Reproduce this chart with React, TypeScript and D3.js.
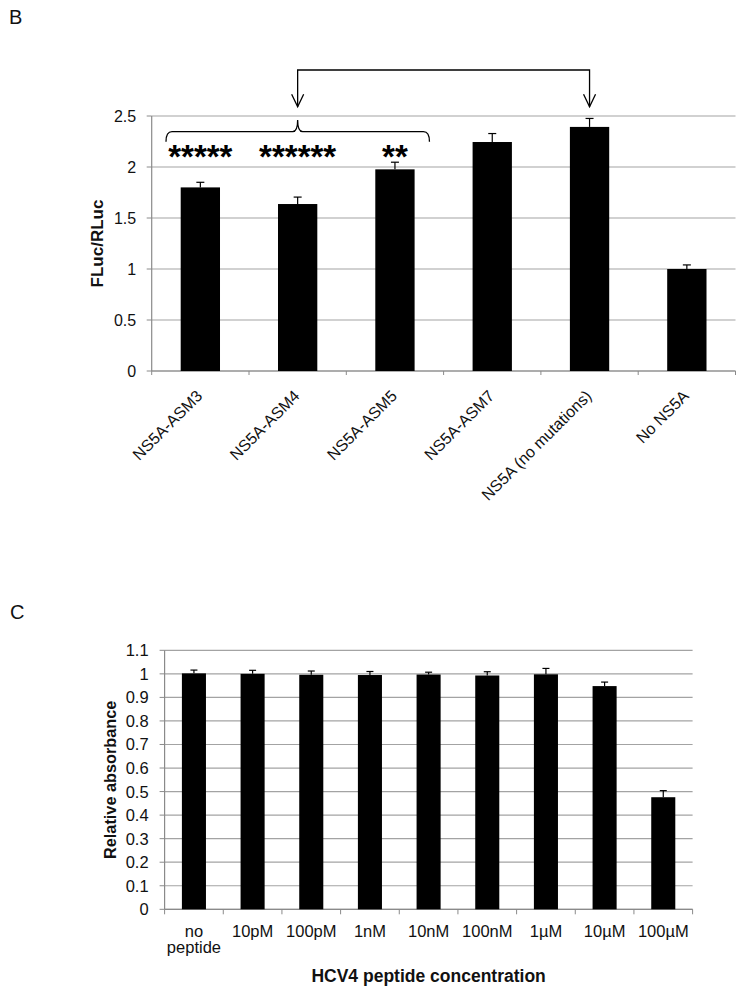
import React from "react";
import * as d3 from "d3";

// ---------- Panel B data ----------
const bCategories = [
  "NS5A-ASM3",
  "NS5A-ASM4",
  "NS5A-ASM5",
  "NS5A-ASM7",
  "NS5A (no mutations)",
  "No NS5A",
];
const bValues = [1.8, 1.637, 1.977, 2.245, 2.393, 1.0];
const bErrors = [0.05, 0.068, 0.07, 0.083, 0.083, 0.04];
const bStars = ["*****", "******", "**", "", "", ""];
const bTicks = [0, 0.5, 1, 1.5, 2, 2.5];
const bTickLabels = ["0", "0.5", "1", "1.5", "2", "2.5"];

// ---------- Panel C data ----------
const cCategories = [
  "no\npeptide",
  "10pM",
  "100pM",
  "1nM",
  "10nM",
  "100nM",
  "1µM",
  "10µM",
  "100µM",
];
const cValues = [1.002, 1.0, 0.996, 0.995, 0.997, 0.993, 0.998, 0.948, 0.476];
const cErrors = [0.014, 0.015, 0.016, 0.015, 0.01, 0.016, 0.025, 0.017, 0.028];
const cTicks = [0, 0.1, 0.2, 0.3, 0.4, 0.5, 0.6, 0.7, 0.8, 0.9, 1, 1.1];
const cTickLabels = ["0", "0.1", "0.2", "0.3", "0.4", "0.5", "0.6", "0.7", "0.8", "0.9", "1", "1.1"];

const FONT = "'Liberation Sans', Arial, Helvetica, sans-serif";
const GRID = "#a3a3a3";
const AXIS = "#8a8a8a";

function PanelB() {
  const x = d3
    .scaleBand<string>()
    .domain(bCategories)
    .range([151.7, 735.5])
    .paddingInner(0.596)
    .paddingOuter(0.298);
  const y = d3.scaleLinear().domain([0, 2.5]).range([371, 116]);
  const step = x.step();
  const x0 = 151.7;
  const x1 = 735.5;
  const cx = (c: string) => (x(c) as number) + x.bandwidth() / 2;

  // annotation geometry derived from scales
  const top = y(2.5);
  const arrowLineY = top - 46;
  const arrowTipY = top - 9.3;
  const braceTipY = top + 4;
  const braceY = top + 15.7;
  const braceEndY = top + 25.7;
  const bL = x0 + 14.3;
  const bR = cx(bCategories[2]) + 34.5;
  const bM = cx(bCategories[1]);
  const aL = cx(bCategories[1]);
  const aR = cx(bCategories[4]);

  return (
    <g>
      <text x={9} y={23.5} fontFamily={FONT} fontSize={20} fill="#111">
        B
      </text>
      {bTicks.map((t, i) => (
        <g key={i}>
          <line x1={x0} x2={x1} y1={y(t)} y2={y(t)} stroke={GRID} strokeWidth={1.2} />
          <line x1={x0 - 5} x2={x0} y1={y(t)} y2={y(t)} stroke={AXIS} strokeWidth={1} />
          <text
            x={x0 - 15.5}
            y={y(t)}
            dy="0.36em"
            textAnchor="end"
            fontFamily={FONT}
            fontSize={16}
            fill="#111"
          >
            {bTickLabels[i]}
          </text>
        </g>
      ))}
      <line x1={x0} x2={x0} y1={y(2.5)} y2={y(0)} stroke={AXIS} strokeWidth={1.2} />
      <line x1={x0} x2={x1} y1={y(0)} y2={y(0)} stroke={AXIS} strokeWidth={1.2} />
      {d3.range(bCategories.length + 1).map((i) => (
        <line
          key={i}
          x1={x0 + i * step}
          x2={x0 + i * step}
          y1={y(0)}
          y2={y(0) + 4}
          stroke={AXIS}
          strokeWidth={1}
        />
      ))}
      {bCategories.map((c, i) => (
        <g key={c}>
          <rect
            x={x(c)}
            y={y(bValues[i])}
            width={x.bandwidth()}
            height={y(0) - y(bValues[i])}
            fill="#000"
          />
          <line
            x1={cx(c)}
            x2={cx(c)}
            y1={y(bValues[i])}
            y2={y(bValues[i] + bErrors[i])}
            stroke="#000"
            strokeWidth={1.2}
          />
          <line
            x1={cx(c) - 4}
            x2={cx(c) + 4}
            y1={y(bValues[i] + bErrors[i])}
            y2={y(bValues[i] + bErrors[i])}
            stroke="#000"
            strokeWidth={1.2}
          />
          <text
            transform={`translate(${cx(c) + 3},${y(0) + 26}) rotate(-45)`}
            textAnchor="end"
            fontFamily={FONT}
            fontSize={16}
            fill="#111"
          >
            {c}
          </text>
          {bStars[i] && (
            <text
              x={cx(c)}
              y={top + 52}
              textAnchor="middle"
              fontFamily={FONT}
              fontWeight="bold"
              fontSize={33}
              fill="#000"
            >
              {bStars[i]}
            </text>
          )}
        </g>
      ))}
      {/* brace */}
      <path
        d={`M${bL},${braceEndY} Q${bL},${braceY} ${bL + 6},${braceY} L${bM - 5},${braceY} Q${bM},${braceY} ${bM},${braceTipY} Q${bM},${braceY} ${bM + 5},${braceY} L${bR - 6},${braceY} Q${bR},${braceY} ${bR},${braceEndY}`}
        fill="none"
        stroke="#000"
        strokeWidth={1.3}
      />
      {/* connector arrows */}
      <path
        d={`M${aL},${arrowTipY} L${aL},${arrowLineY} L${aR},${arrowLineY} L${aR},${arrowTipY}`}
        fill="none"
        stroke="#000"
        strokeWidth={1.3}
      />
      {[aL, aR].map((ax, i) => (
        <path
          key={i}
          d={`M${ax - 6},${arrowTipY - 12.5} L${ax},${arrowTipY} L${ax + 6},${arrowTipY - 12.5}`}
          fill="none"
          stroke="#000"
          strokeWidth={1.3}
        />
      ))}
      <text
        transform={`translate(103,${(y(0) + y(2.5)) / 2}) rotate(-90)`}
        textAnchor="middle"
        fontFamily={FONT}
        fontWeight="bold"
        fontSize={17}
        fill="#111"
      >
        FLuc/RLuc
      </text>
    </g>
  );
}

function PanelC() {
  const x0 = 164.6;
  const x1 = 692.6;
  const x = d3
    .scaleBand<string>()
    .domain(cCategories)
    .range([x0, x1])
    .paddingInner(0.59)
    .paddingOuter(0.295);
  const y = d3.scaleLinear().domain([0, 1.1]).range([909.3, 650.3]);
  const step = x.step();
  const cx = (c: string) => (x(c) as number) + x.bandwidth() / 2;

  return (
    <g>
      <text x={10} y={619} fontFamily={FONT} fontSize={20} fill="#111">
        C
      </text>
      {cTicks.map((t, i) => (
        <g key={i}>
          <line x1={x0} x2={x1} y1={y(t)} y2={y(t)} stroke={GRID} strokeWidth={1.2} />
          <line x1={x0 - 5} x2={x0} y1={y(t)} y2={y(t)} stroke={AXIS} strokeWidth={1} />
          <text
            x={x0 - 16}
            y={y(t)}
            dy="0.36em"
            textAnchor="end"
            fontFamily={FONT}
            fontSize={16.5}
            fill="#111"
          >
            {cTickLabels[i]}
          </text>
        </g>
      ))}
      <line x1={x0} x2={x0} y1={y(1.1)} y2={y(0)} stroke={AXIS} strokeWidth={1.2} />
      <line x1={x0} x2={x1} y1={y(0)} y2={y(0)} stroke={AXIS} strokeWidth={1.2} />
      {d3.range(cCategories.length + 1).map((i) => (
        <line
          key={i}
          x1={x0 + i * step}
          x2={x0 + i * step}
          y1={y(0)}
          y2={y(0) + 5}
          stroke={AXIS}
          strokeWidth={1}
        />
      ))}
      {cCategories.map((c, i) => (
        <g key={c}>
          <rect
            x={x(c)}
            y={y(cValues[i])}
            width={x.bandwidth()}
            height={y(0) - y(cValues[i])}
            fill="#000"
          />
          <line
            x1={cx(c)}
            x2={cx(c)}
            y1={y(cValues[i])}
            y2={y(cValues[i] + cErrors[i])}
            stroke="#000"
            strokeWidth={1.2}
          />
          <line
            x1={cx(c) - 3.5}
            x2={cx(c) + 3.5}
            y1={y(cValues[i] + cErrors[i])}
            y2={y(cValues[i] + cErrors[i])}
            stroke="#000"
            strokeWidth={1.2}
          />
          <text
            x={cx(c)}
            y={y(0) + 27.4}
            textAnchor="middle"
            fontFamily={FONT}
            fontSize={16.5}
            fill="#111"
          >
            {c.split("\n").map((line, j) => (
              <tspan key={j} x={cx(c)} dy={j === 0 ? 0 : 16.6}>
                {line}
              </tspan>
            ))}
          </text>
        </g>
      ))}
      <text
        transform={`translate(116,${(y(0) + y(1.1)) / 2}) rotate(-90)`}
        textAnchor="middle"
        fontFamily={FONT}
        fontWeight="bold"
        fontSize={16.3}
        fill="#111"
      >
        Relative absorbance
      </text>
      <text
        x={(x0 + x1) / 2}
        y={982}
        textAnchor="middle"
        fontFamily={FONT}
        fontWeight="bold"
        fontSize={17.5}
        fill="#111"
      >
        HCV4 peptide concentration
      </text>
    </g>
  );
}

export default function App() {
  return (
    <svg
      width={744}
      height={993}
      viewBox="0 0 744 993"
      style={{ position: "absolute", left: 0, top: 0, background: "#fff" }}
    >
      <rect x={0} y={0} width={744} height={993} fill="#fff" />
      <PanelB />
      <PanelC />
    </svg>
  );
}
